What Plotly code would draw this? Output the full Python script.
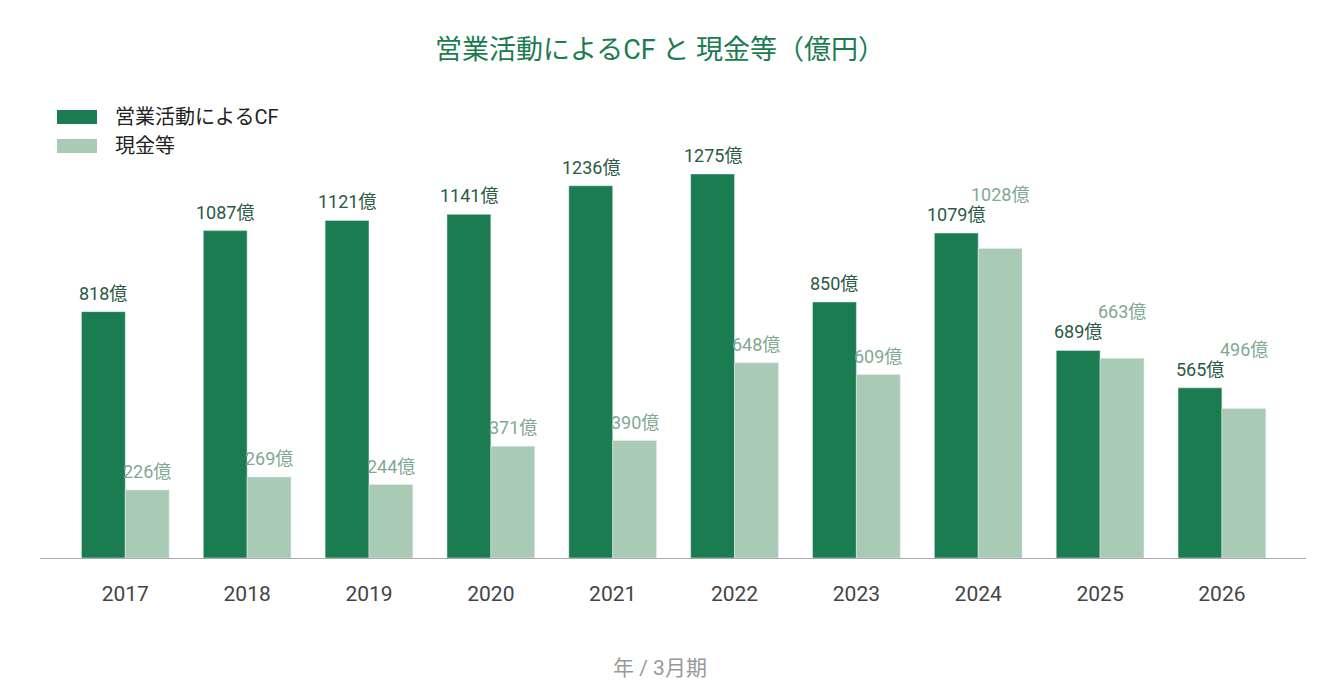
import plotly.graph_objects as go

years = ["2017", "2018", "2019", "2020", "2021", "2022", "2023", "2024", "2025", "2026"]
op_cf = [818, 1087, 1121, 1141, 1236, 1275, 850, 1079, 689, 565]
cash = [226, 269, 244, 371, 390, 648, 609, 1028, 663, 496]
series_names = ["営業活動によるCF", "現金等"]
title_text = "営業活動によるCF と 現金等（億円）"
x_title = "年 / 3月期"

DARK = "#1c7c51"
LIGHT = "#a9cbb6"
DARK_LBL = "#2b5a45"
LIGHT_LBL = "#82a894"
FONT = "Roboto, 'Noto Sans CJK JP', sans-serif"

W, H = 1320, 690
ML, MR, MT, MB = 40, 14, 100, 132
PW, PH = W - ML - MR, H - MT - MB
YMAX = 1520.7
ppu = PH / YMAX

fig = go.Figure()
fig.add_trace(go.Bar(x=years, y=op_cf, name=series_names[0], marker_color=DARK,
                     hoverinfo="x+y"))
fig.add_trace(go.Bar(x=years, y=cash, name=series_names[1], marker_color=LIGHT,
                     hoverinfo="x+y"))

annotations = []
half_px = (1 - 0.28) / 2 / 2 * PW / 10.39  # half bar width in px
for i, (yr, d, c) in enumerate(zip(years, op_cf, cash)):
    # category index used as x (numeric-looking category names)
    annotations.append(dict(x=i, y=d, xshift=-half_px, yshift=6, text=f"{d}億",
                            showarrow=False, yanchor="bottom",
                            font=dict(family=FONT, size=18, color=DARK_LBL)))
    yd = d * ppu + 17
    yl = c * ppu + 17
    shift = 6
    if abs(yl - yd) < 24:
        shift = 6 + (yd + 20 - yl)
    annotations.append(dict(x=i, y=c, xshift=half_px, yshift=shift, text=f"{c}億",
                            showarrow=False, yanchor="bottom",
                            font=dict(family=FONT, size=18, color=LIGHT_LBL)))

# axis title
annotations.append(dict(xref="paper", yref="paper", x=(660 - ML) / PW, y=-(668 - (H - MB)) / PH,
                        text=x_title, showarrow=False, xanchor="center", yanchor="middle",
                        font=dict(family=FONT, size=21, color="#999999")))

# custom legend
shapes = []
leg_colors = [DARK, LIGHT]
for i, (nm, col) in enumerate(zip(series_names, leg_colors)):
    cy = 117 + i * 29
    shapes.append(dict(type="rect", xref="paper", yref="paper",
                       x0=(57 - ML) / PW, x1=(97 - ML) / PW,
                       y0=(H - MB - (cy + 7)) / PH, y1=(H - MB - (cy - 7)) / PH,
                       fillcolor=col, line=dict(width=0)))
    annotations.append(dict(xref="paper", yref="paper", x=(113 - ML) / PW,
                            y=(H - MB - cy) / PH, text=nm, showarrow=False,
                            xanchor="left", yanchor="middle",
                            font=dict(family=FONT, size=20, color="#222222")))

fig.update_layout(
    width=W, height=H,
    margin=dict(l=ML, r=MR, t=MT, b=MB),
    paper_bgcolor="white", plot_bgcolor="white",
    barmode="group", bargap=0.28, bargroupgap=0,
    showlegend=False,
    title=dict(text=title_text, x=0.5, xanchor="center", y=1 - 50 / H, yanchor="middle",
               font=dict(family=FONT, size=27, color=DARK)),
    font=dict(family=FONT),
    annotations=annotations,
    shapes=shapes,
    xaxis=dict(type="category", range=[-0.7, 9.69], showline=True, linecolor="#aaaaaa",
               linewidth=1, showgrid=False, ticks="", ticklabelstandoff=17,
               tickfont=dict(family=FONT, size=21, color="#444444")),
    yaxis=dict(range=[0, YMAX], visible=False, showgrid=False, zeroline=False),
)

fig.write_html("out.html")
